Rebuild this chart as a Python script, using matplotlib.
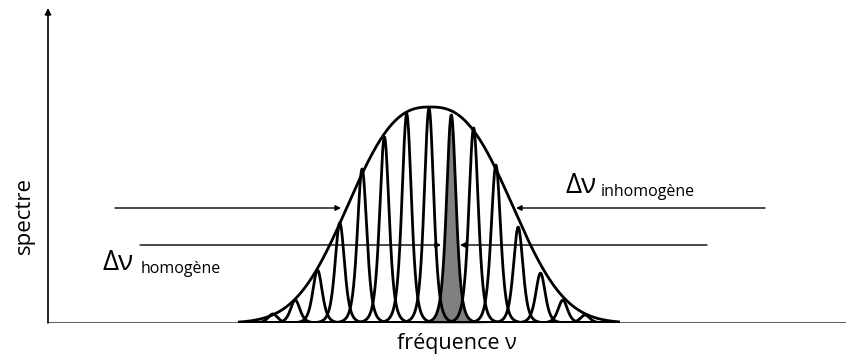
import numpy as np
import matplotlib
matplotlib.use("Agg")
import matplotlib.pyplot as plt

plt.rcParams['font.family'] = ['Open Sans', 'DejaVu Sans']

# ---- data (frequency in units of line spacing, intensity relative to envelope max) ----
line_index = [-7, -6, -5, -4, -3, -2, -1, 0, 1, 2, 3, 4, 5, 6, 7]
line_heights = [0.042, 0.106, 0.245, 0.463, 0.713, 0.861, 0.968, 0.995,
                0.963, 0.903, 0.731, 0.444, 0.231, 0.106, 0.037]
highlight_index = 1           # the homogeneous line that is shaded
line_halfwidth = 0.49         # homogeneous line width parameter
line_power = 3.0
env_center = 0.05
env_height = 1.0
env_scale = 4.47
env_exponent = 2.6
x_span = (-8.5, 8.5)

xlabel = "fréquence ν"
ylabel = "spectre"

# ---- figure ----
W, H = 846, 360
fig = plt.figure(figsize=(W / 100, H / 100), dpi=100)
px_unit = 22.3
x0_px = 429
def xu(p):
    return (p - x0_px) / px_unit
def yu(p):
    return (323 - p) / 216

ax = fig.add_axes([48 / W, (H - 323) / H, (W - 48) / W, 315 / H])
ax.set_xlim(xu(48), xu(W))
ax.set_ylim(0, yu(8))
ax.axis('off')

x = np.linspace(x_span[0], x_span[1], 6000)

def line_shape(xc, h):
    return h / (1 + ((x - xc) / line_halfwidth) ** 2) ** line_power

# x axis (gray) and y axis (arrow)
ax.plot([xu(48), xu(W)], [0, 0], color='#646464', lw=2.2, solid_capstyle='butt', zorder=1)
ax.annotate('', xy=(0, 1), xycoords='axes fraction', xytext=(0, 0),
            textcoords='axes fraction',
            arrowprops=dict(arrowstyle='-|>', color='black', lw=1.2,
                            mutation_scale=9, shrinkA=0, shrinkB=0))

# shaded line
for xc, h in zip(line_index, line_heights):
    if xc == highlight_index:
        ax.fill_between(x, 0, line_shape(xc, h), color='#808080', lw=0, zorder=2)

# homogeneous lines
for xc, h in zip(line_index, line_heights):
    ax.plot(x, line_shape(xc, h), color='black', lw=2.0, zorder=3,
            solid_joinstyle='round')

# inhomogeneous envelope
env = env_height * np.exp(-np.abs((x - env_center) / env_scale) ** env_exponent)
ax.plot(x, env, color='black', lw=2.0, zorder=3)

# width arrows
arrow_kw = dict(arrowstyle='-|>', color='black', lw=1.0, mutation_scale=8,
                shrinkA=0, shrinkB=0)
arrows = [((xu(115), yu(208)), (xu(341), yu(208))),
          ((xu(765), yu(208)), (xu(516), yu(208))),
          ((xu(140), yu(245)), (xu(441), yu(245))),
          ((xu(707), yu(245)), (xu(460), yu(245)))]
for start, end in arrows:
    ax.annotate('', xy=end, xytext=start, arrowprops=arrow_kw, zorder=4)

# labels
fig.text(566 / W, 1 - 193 / H, "Δν", fontsize=20, va='baseline', ha='left')
fig.text(601 / W, 1 - 196 / H, "inhomogène", fontsize=11.5, va='baseline', ha='left')
fig.text(102 / W, 1 - 270 / H, "Δν", fontsize=20, va='baseline', ha='left')
fig.text(141 / W, 1 - 273 / H, "homogène", fontsize=11.5, va='baseline', ha='left')

fig.text(457 / W, 1 - 343 / H, xlabel, fontsize=15.5, ha='center', va='center')
fig.text(24 / W, 1 - 215 / H, ylabel, fontsize=16, ha='center', va='center',
         rotation=90)

fig.savefig('out.png', dpi=100)
